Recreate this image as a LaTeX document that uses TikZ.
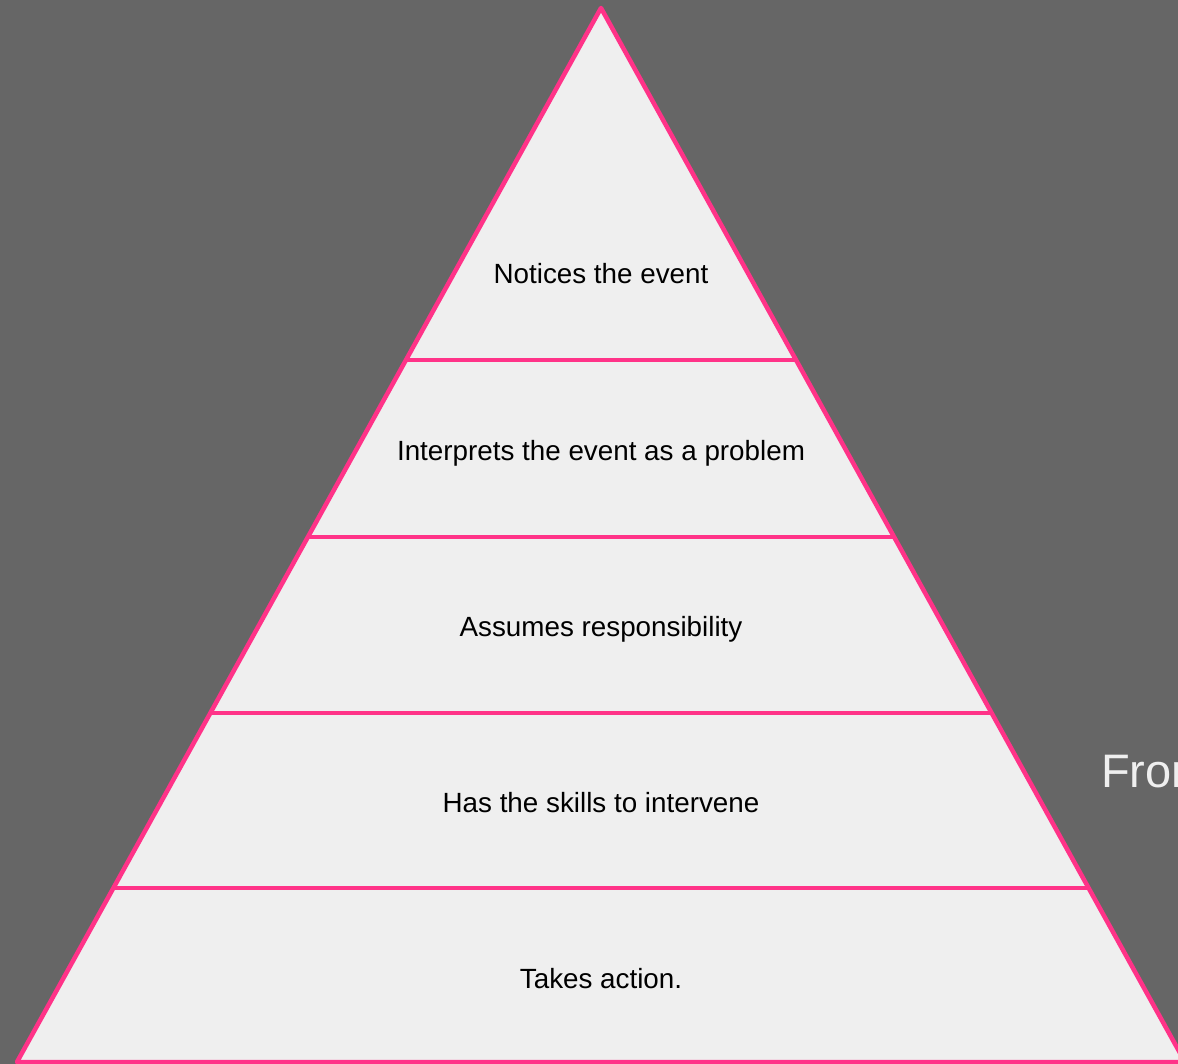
\documentclass[tikz,border=0pt]{standalone}
\usepackage{fontspec}
\setmainfont{Liberation Sans}

\definecolor{bggray}{HTML}{666666}
\definecolor{layerfill}{HTML}{EFEFEF}
\definecolor{edgepink}{HTML}{FF3388}

\tikzset{
  layertext/.style={anchor=base, inner sep=0pt, font=\fontsize{27.8}{33}\selectfont},
  edgeline/.style={edgepink, line width=4.5pt, line join=round}
}

\begin{document}
\begin{tikzpicture}[x=1pt, y=-1pt]

\useasboundingbox (0,0) rectangle (1178,1064);
\clip (0,0) rectangle (1178,1064);
\fill[bggray] (0,0) rectangle (1178,1064);

\coordinate (apex) at (601,8);
\coordinate (baseL) at (17,1062);
\coordinate (baseR) at (1185,1062);

\fill[layerfill] (apex) -- (baseL) -- (baseR) -- cycle;

% layer borders
\foreach \yy in {360,537,713,888}{
  \pgfmathsetmacro{\hw}{0.554*(\yy-8)}
  \draw[edgeline] (601-\hw,\yy) -- (601+\hw,\yy);
}

\draw[edgeline] (apex) -- (baseL) -- (baseR) -- cycle;

\node[layertext] (notices) at (601,284) {Notices the event};
\node[layertext] (interprets) at (601,460) {Interprets the event as a problem};
\node[layertext] (assumes) at (601,636) {Assumes responsibility};
\node[layertext] (skills) at (601,812) {Has the skills to intervene};
\node[layertext] (action) at (601,988) {Takes action.};

\node[anchor=base west, inner sep=0pt, text=layerfill, font=\fontsize{47}{56}\selectfont] (source) at (1101,787) {From};

\end{tikzpicture}
\end{document}
